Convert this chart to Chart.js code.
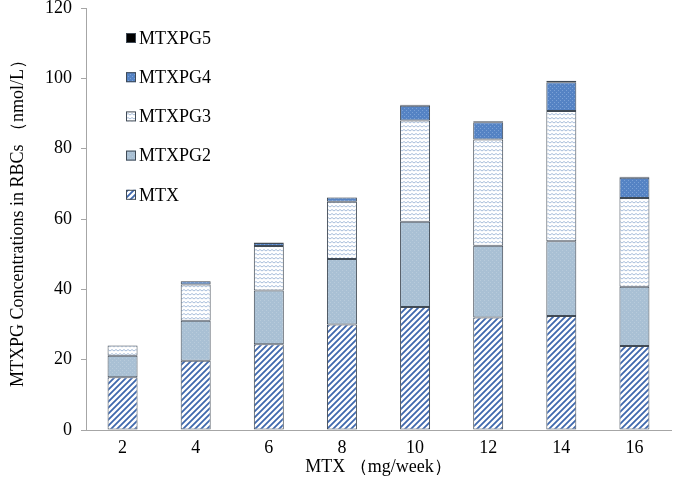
<!DOCTYPE html>
<html>
<head>
<meta charset="utf-8">
<script src="https://cdn.jsdelivr.net/npm/chart.js@4.4.1/dist/chart.umd.min.js"></script>
<style>
  html, body { margin: 0; padding: 0; background: #fff; }
  #wrap { width: 675px; height: 480px; }
</style>
</head>
<body>
<div id="wrap"><canvas id="c" width="675" height="480"></canvas></div>
<script>
// data
const doses = ["2", "4", "6", "8", "10", "12", "14", "16"];
const mtx    = [15.0, 19.7, 24.4, 30.0, 35.0, 32.0, 32.4, 23.9];
const mtxpg2 = [6.1, 11.4, 15.3, 18.6, 24.2, 20.4, 21.3, 16.8];
const mtxpg3 = [2.9, 10.3, 12.6, 16.3, 28.8, 30.2, 37.0, 25.3];
const mtxpg4 = [0, 0.9, 0.9, 1.2, 4.2, 4.9, 8.2, 5.7];
const mtxpg5 = [0, 0.1, 0.1, 0.1, 0.3, 0.3, 0.4, 0.3];
const yTicks = [0, 20, 40, 60, 80, 100, 120];

const FONT = "'Liberation Serif', 'DejaVu Serif', serif";

// fill patterns (office-style hatch fills)
function makePattern(size, draw) {
    const cv = document.createElement('canvas');
    cv.width = size; cv.height = size;
    const g = cv.getContext('2d');
    draw(g, size);
    return g.createPattern(cv, 'repeat');
}

const ctx = document.getElementById('c').getContext('2d');

const stripes = makePattern(6, (g, s) => {
    g.fillStyle = '#fff';
    g.fillRect(0, 0, s, s);
    g.strokeStyle = '#3f68ad';
    g.lineWidth = 1.8;
    g.beginPath();
    g.moveTo(-1, s + 1); g.lineTo(s + 1, -1);
    g.moveTo(-1, 1); g.lineTo(1, -1);
    g.moveTo(s - 1, s + 1); g.lineTo(s + 1, s - 1);
    g.stroke();
});

const dense = makePattern(4, (g, s) => {
    g.fillStyle = '#a9c0d4';
    g.fillRect(0, 0, s, s);
    g.fillStyle = '#b8cbdb';
    g.fillRect(0, 0, 1, 1);
    g.fillRect(2, 2, 1, 1);
});

const waves = makePattern(8, (g, s) => {
    g.fillStyle = '#fff';
    g.fillRect(0, 0, s, s);
    g.strokeStyle = '#a8bedb';
    g.lineWidth = 1;
    for (let y = 1.5; y < s; y += 4) {
        g.beginPath();
        g.moveTo(0, y);
        g.lineTo(2, y + 1.5);
        g.lineTo(4, y);
        g.lineTo(6, y + 1.5);
        g.lineTo(8, y);
        g.stroke();
    }
});

const checker = makePattern(4, (g, s) => {
    g.fillStyle = '#5583c4';
    g.fillRect(0, 0, s, s);
    g.fillStyle = '#7ba1d6';
    g.fillRect(0, 0, 1, 1);
    g.fillRect(2, 2, 1, 1);
});

// legend drawn inside the plot, top to bottom MTXPG5 .. MTX
const insideLegend = {
    id: 'insideLegend',
    afterDraw(chart) {
        const c = chart.ctx;
        const area = chart.chartArea;
        const sets = chart.data.datasets.slice().reverse();
        c.save();
        c.font = '18px ' + FONT;
        c.textBaseline = 'middle';
        sets.forEach((ds, i) => {
            const x = area.left + 40;
            const y = area.top + 30 + i * 39.2;
            c.fillStyle = ds.backgroundColor;
            c.fillRect(x, y - 5, 10, 10);
            c.strokeStyle = '#404a55';
            c.lineWidth = 1;
            c.strokeRect(x + 0.5, y - 4.5, 9, 9);
            c.fillStyle = '#000';
            c.fillText(ds.label, x + 13, y + 1);
        });
        c.restore();
    }
};

function bar(label, data, fill) {
    return {
        label: label,
        data: data,
        backgroundColor: fill,
        borderColor: '#404a55',
        borderWidth: 1,
        borderSkipped: false,
        categoryPercentage: 1,
        barPercentage: 0.41,
    };
}

new Chart(ctx, {
    type: 'bar',
    data: {
        labels: doses,
        datasets: [
            bar('MTX', mtx, stripes),
            bar('MTXPG2', mtxpg2, dense),
            bar('MTXPG3', mtxpg3, waves),
            bar('MTXPG4', mtxpg4, checker),
            bar('MTXPG5', mtxpg5, '#000'),
        ]
    },
    options: {
        responsive: false,
        animation: false,
        layout: { padding: { top: 8, right: 4, left: 0, bottom: 0 } },
        scales: {
            x: {
                stacked: true,
                grid: { display: true, drawOnChartArea: false, drawTicks: false },
                border: { display: true, color: '#a6a6a6', width: 1 },
                ticks: { color: '#000', font: { family: FONT, size: 18 }, padding: 7 },
                title: {
                    display: true,
                    text: 'MTX （mg/week）',
                    color: '#000',
                    font: { family: FONT, size: 18 },
                    padding: { top: 0, bottom: 2 },
                },
                afterFit: s => { s.height = 50; s.paddingLeft = 0; s.paddingRight = 0; },
            },
            y: {
                stacked: true,
                min: 0,
                max: 120,
                afterBuildTicks: s => { s.ticks = yTicks.map(v => ({ value: v })); },
                grid: { display: true, drawOnChartArea: false, drawTicks: true, tickLength: 5, color: '#a6a6a6' },
                border: { display: true, color: '#a6a6a6', width: 1 },
                ticks: { color: '#000', font: { family: FONT, size: 18 }, padding: 9 },
                title: {
                    display: true,
                    text: 'MTXPG Concentrations in RBCs （nmol/L）',
                    color: '#000',
                    font: { family: FONT, size: 18 },
                    padding: { top: 7, bottom: 4 },
                },
                afterFit: s => { s.width = 86; s.paddingTop = 0; s.paddingBottom = 0; },
            },
        },
        plugins: {
            legend: { display: false },
            tooltip: { enabled: false },
        },
    },
    plugins: [insideLegend],
});
</script>
</body>
</html>
